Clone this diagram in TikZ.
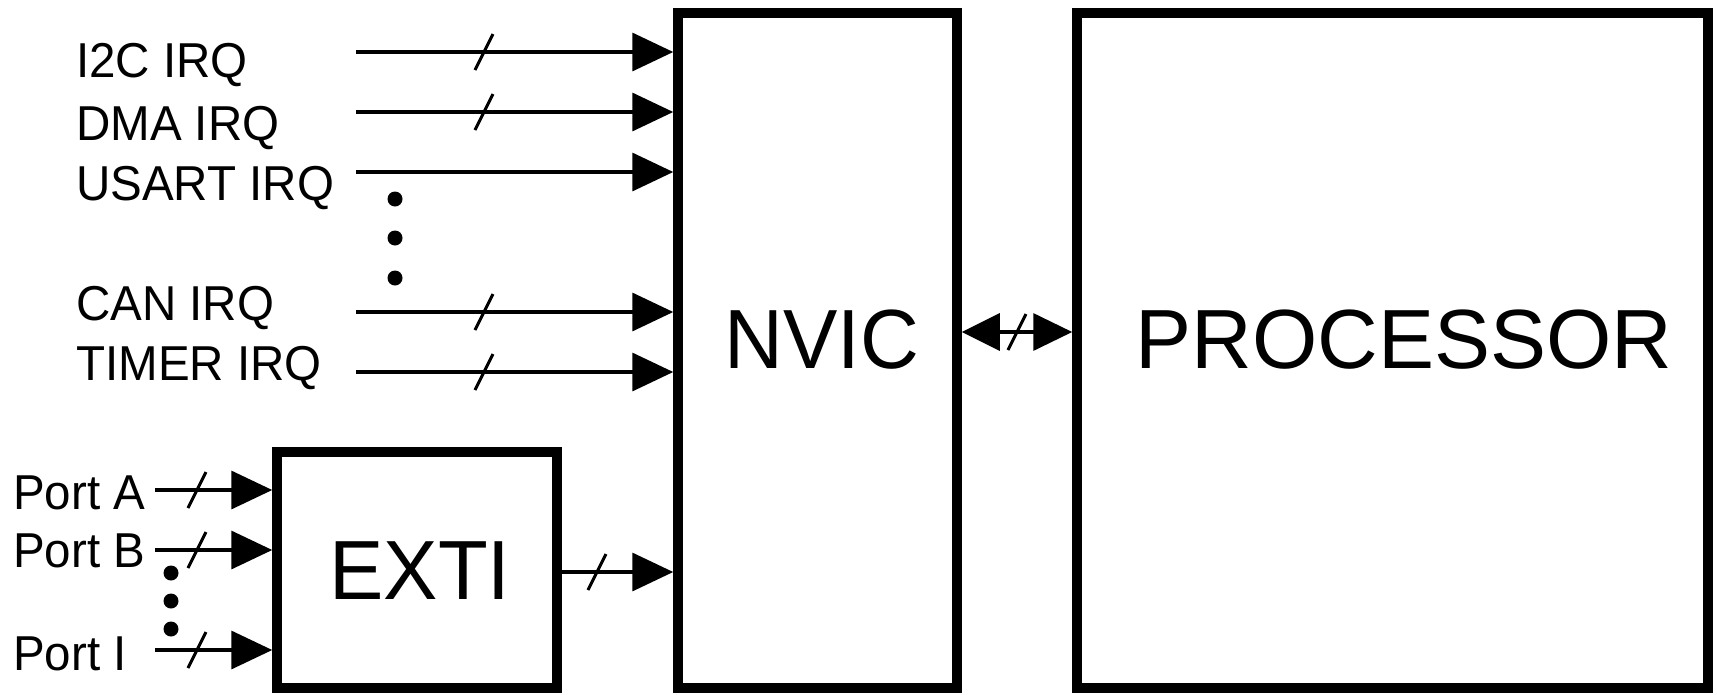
\documentclass[tikz,border=0pt]{standalone}
\usepackage{fontspec}
\setmainfont[FakeStretch=0.97]{Liberation Sans}
\newfontfamily\procfont{Liberation Sans}
\usetikzlibrary{arrows.meta}
\begin{document}
\begin{tikzpicture}[x=1pt,y=-1pt,
  box/.style={draw,line width=9.5pt,inner sep=0pt,rectangle},
  lbl/.style={anchor=base west,inner sep=0pt,font=\fontsize{49}{49}\selectfont},
  big/.style={anchor=base,inner sep=0pt,font=\fontsize{84}{84}\selectfont},
  arr/.style={line width=3.5pt,-{Triangle[length=41pt,width=38pt]}},
  barr/.style={line width=3.5pt,{Triangle[length=38pt,width=37pt]}-{Triangle[length=39pt,width=37pt]}},
  busmark/.style={line width=3pt},
  dotmark/.style={circle,fill,inner sep=0pt,minimum size=15pt}]
\useasboundingbox (0,0) rectangle (1717,694);

% blocks
\node[box,minimum width=279pt,minimum height=675pt] (nvic) at (817.5,350.5) {};
\node[box,minimum width=631pt,minimum height=675pt] (proc) at (1392.5,350.5) {};
\node[box,minimum width=280pt,minimum height=236pt] (exti) at (417,570) {};
\node[big] (nvictxt) at (822,368) {NVIC};
\node[big] (proctxt) at (1404,368) {\procfont PROCESSOR};
\node[big] (extitxt) at (420,599) {EXTI};

% IRQ labels
\node[lbl] (l1) at (76,77) {I2C IRQ};
\node[lbl] (l2) at (76,140) {DMA IRQ};
\node[lbl] (l3) at (76,200) {USART IRQ};
\node[lbl] (l4) at (76,320) {CAN IRQ};
\node[lbl] (l5) at (76,380) {TIMER IRQ};

% IRQ line starts
\coordinate (s1) at (356,52);
\coordinate (s2) at (356,112);
\coordinate (s3) at (356,172);
\coordinate (s4) at (356,312);
\coordinate (s5) at (356,372);
\foreach \s in {s1,s2,s3,s4,s5}
  \draw[arr] (\s) -- (\s -| nvic.west);
\foreach \y in {52,112,312,372}
  \draw[busmark] (475,\y+18) -- (493,\y-18);

% IRQ dots
\node[dotmark] (d1) at (395,199) {};
\node[dotmark] (d2) at (395,238) {};
\node[dotmark] (d3) at (395,278) {};

% Port labels
\node[lbl] (pa) at (13,509) {Port A};
\node[lbl] (pb) at (13,567) {Port B};
\node[lbl] (pi) at (13,670) {Port I};

\coordinate (ps1) at (155,490);
\coordinate (ps2) at (155,550);
\coordinate (ps3) at (155,650);
\foreach \s in {ps1,ps2,ps3}
  \draw[arr] (\s) -- (\s -| exti.west);
\foreach \y in {490,550,650}
  \draw[busmark] (188,\y+18) -- (206,\y-18);

% Port dots
\node[dotmark] (e1) at (171,573) {};
\node[dotmark] (e2) at (171,601) {};
\node[dotmark] (e3) at (171,629) {};

% EXTI to NVIC
\coordinate (eo) at (0,572);
\draw[arr] (eo -| exti.east) -- (eo -| nvic.west);
\draw[busmark] (588,590) -- (606,554);

% NVIC <-> PROCESSOR
\coordinate (bi) at (0,332);
\draw[barr] (bi -| nvic.east) -- (bi -| proc.west);
\draw[busmark] (1008,350) -- (1026,314);
\end{tikzpicture}
\end{document}
